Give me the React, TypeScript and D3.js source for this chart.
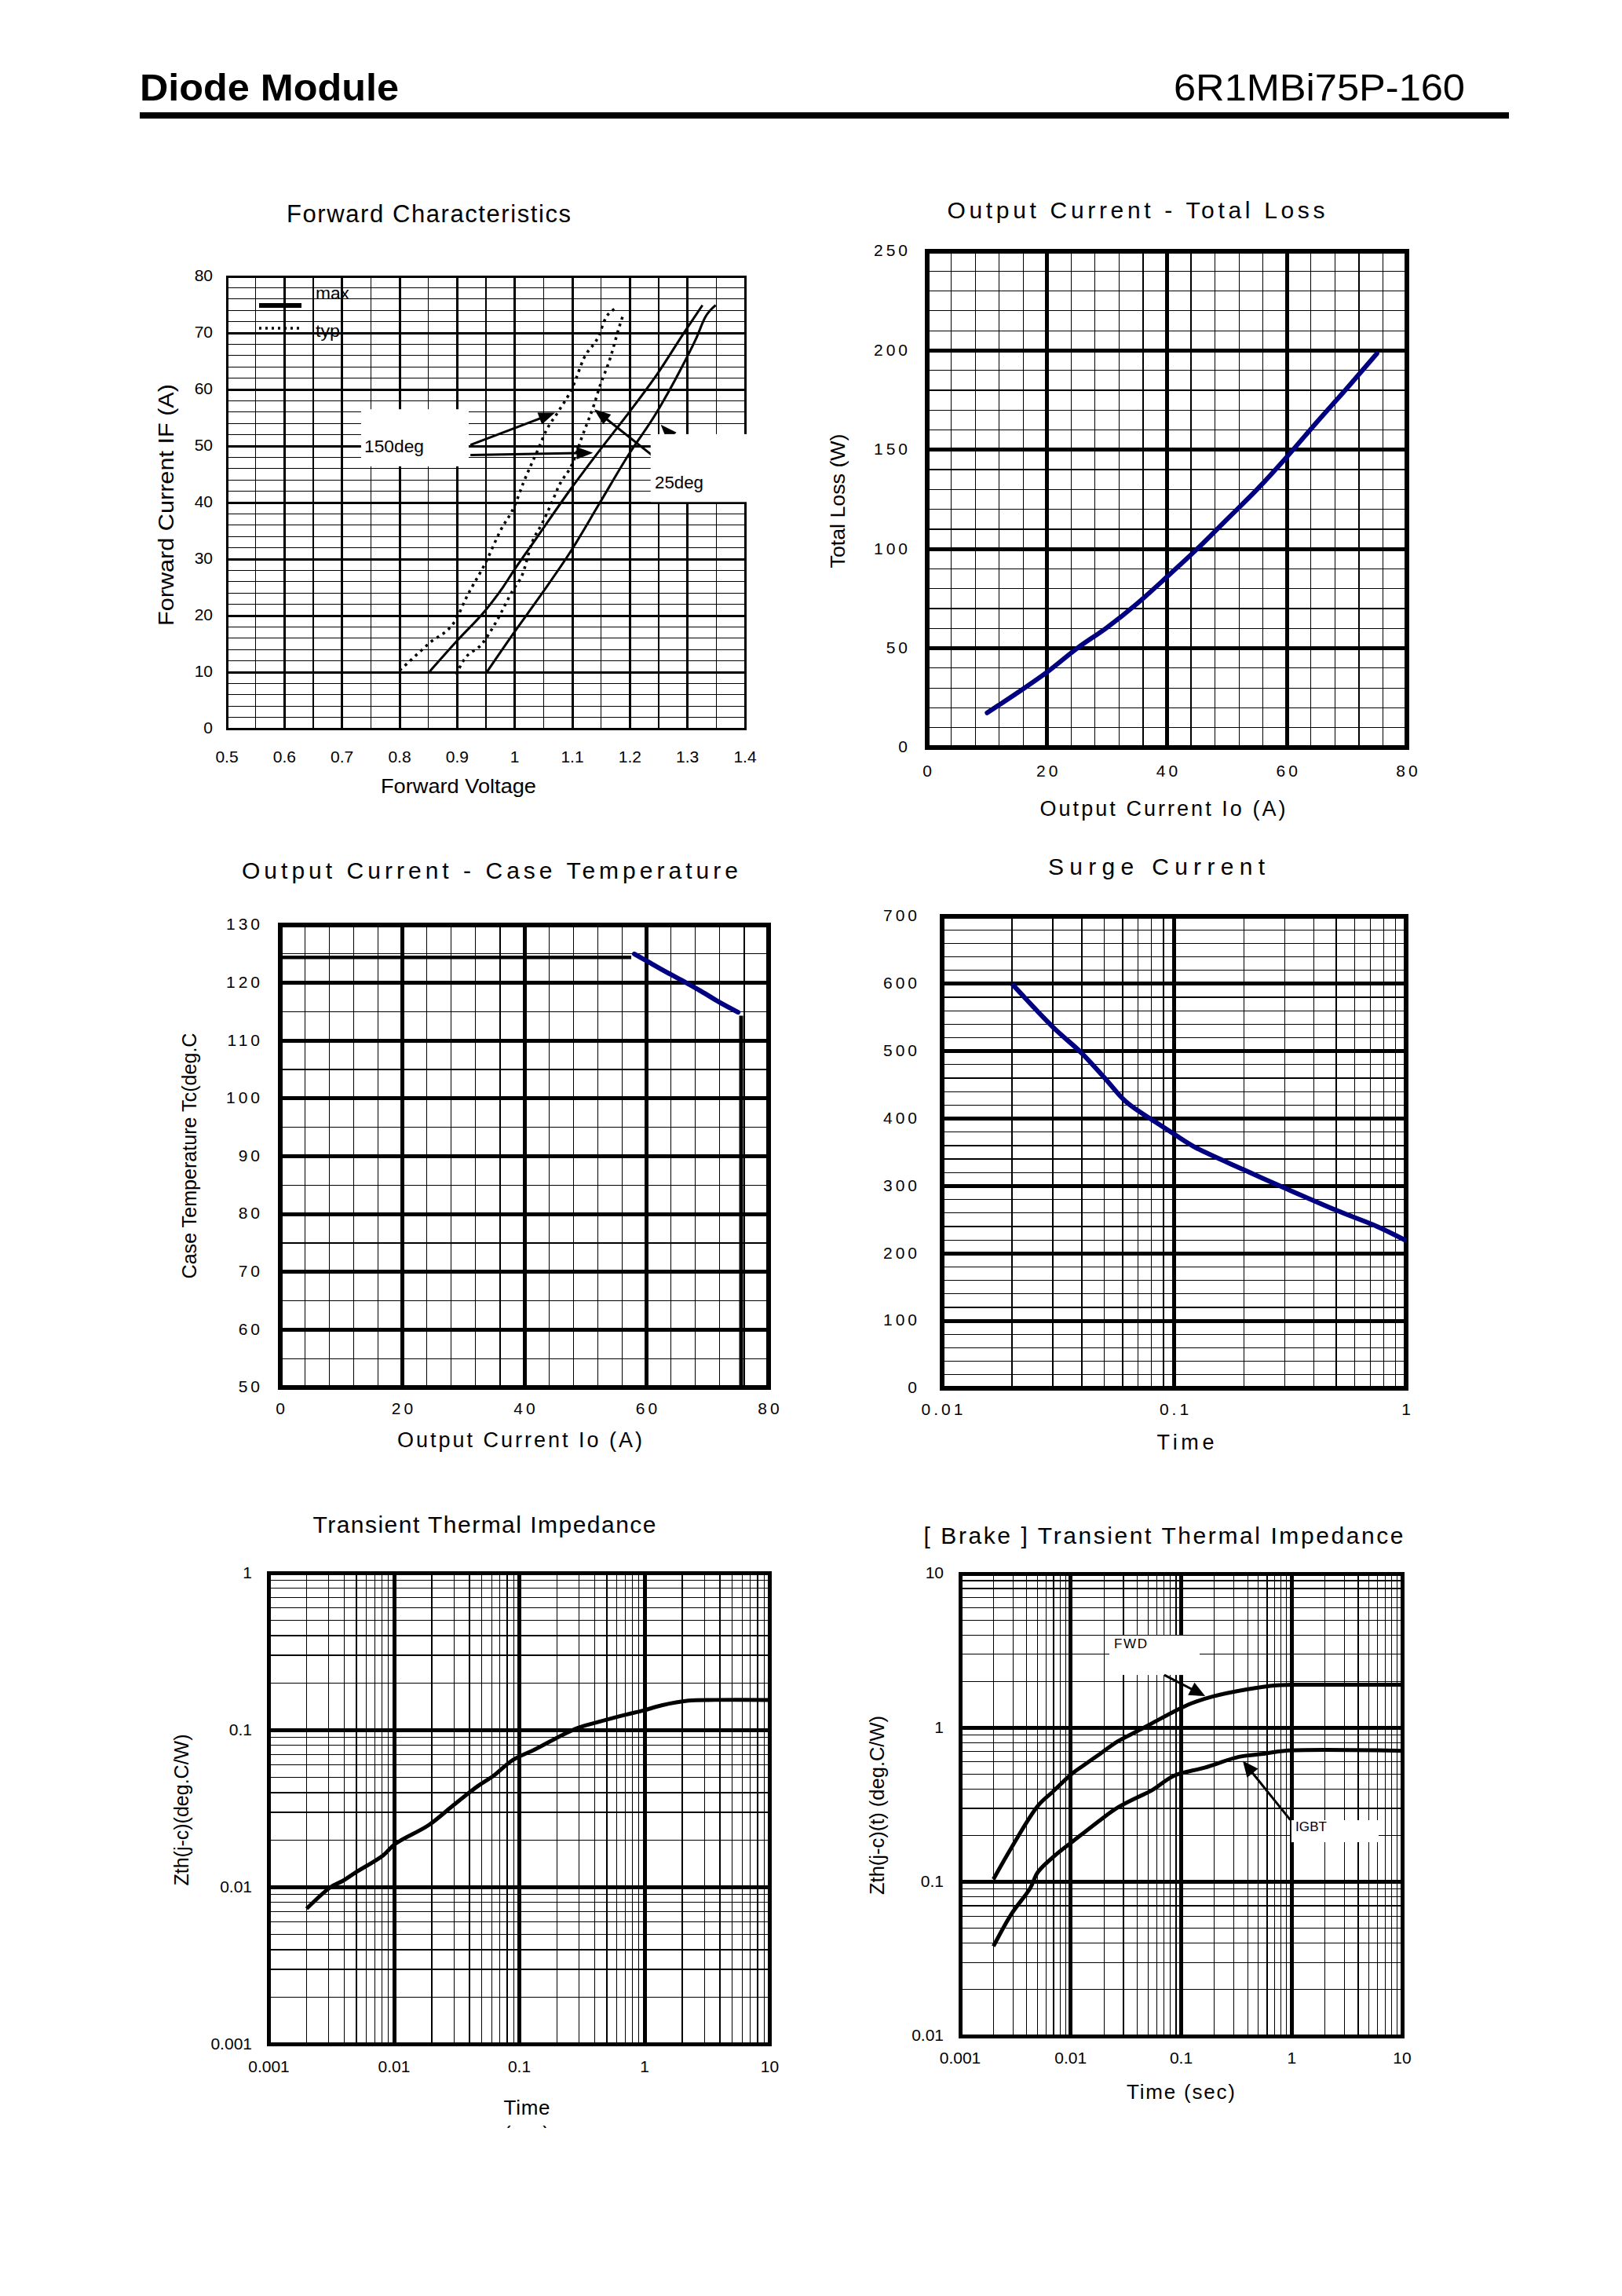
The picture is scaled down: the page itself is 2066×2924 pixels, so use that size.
import React from 'react';
import * as d3 from 'd3';

const FONT = "'Liberation Sans', Arial, Helvetica, sans-serif";
const NAVY = '#000080';

// ---------------- data ----------------
// Forward characteristics (V, A)
const fwdVoltTicks = [0.5, 0.6, 0.7, 0.8, 0.9, 1.0, 1.1, 1.2, 1.3, 1.4];
const fwdVoltLabels = ['0.5', '0.6', '0.7', '0.8', '0.9', '1', '1.1', '1.2', '1.3', '1.4'];
const fwdCurrTicks = [0, 10, 20, 30, 40, 50, 60, 70, 80];
const fwdTyp150: [number, number][] = [
  [0.8, 10.3], [0.85, 15], [0.9, 19.7], [0.915, 23], [0.95, 29.5], [0.975, 35], [1.0, 39.5],
  [1.015, 43.5], [1.04, 49.3], [1.055, 52.8], [1.075, 56], [1.1, 60.3], [1.12, 65.5],
  [1.148, 70], [1.155, 72], [1.173, 74.2],
];
const fwdTyp25: [number, number][] = [
  [0.898, 9.6], [0.912, 12.2], [0.944, 15.1], [0.966, 18.6], [0.998, 24.7], [1.013, 27.2],
  [1.03, 32.9], [1.048, 36.4], [1.066, 40.4], [1.076, 42.8], [1.101, 47.1], [1.116, 51.4],
  [1.137, 57.1], [1.148, 60.6], [1.166, 65.6], [1.181, 70.9], [1.189, 73.4],
];
const fwdMax150: [number, number][] = [
  [0.852, 10.1], [0.902, 15.8], [0.948, 20.8], [0.98, 25.1], [0.998, 27.9], [1.037, 33.6],
  [1.098, 42.5], [1.148, 49.3], [1.202, 56.4], [1.248, 62.8], [1.295, 70.2], [1.326, 74.9],
];
const fwdMax25: [number, number][] = [
  [0.952, 10.1], [0.998, 16.9], [1.045, 23.6], [1.098, 31.5], [1.148, 40], [1.198, 48.5],
  [1.245, 55.7], [1.295, 64.9], [1.315, 69], [1.331, 72.8], [1.349, 74.9],
];

// Output current - total loss
const lossXTicks = [0, 20, 40, 60, 80];
const lossYTicks = [0, 50, 100, 150, 200, 250];
const lossCurrent = [10, 15, 20, 25, 30, 35, 40, 45, 50, 55, 60, 65, 70, 75];
const lossWatts = [17.5, 27.5, 38, 50, 60.5, 72.5, 86, 100, 115, 130, 146.5, 164, 181, 198.5];

// Output current - case temperature
const caseXTicks = [0, 20, 40, 60, 80];
const caseYTicks = [50, 60, 70, 80, 90, 100, 110, 120, 130];
const caseFlatCurrent = [0, 57.5];
const caseFlatTemp = [124.4, 124.4];
const caseCurrent = [58, 60, 63, 66, 69, 72, 75];
const caseTemp = [125, 123.8, 122, 120.3, 118.5, 116.6, 114.9];
const caseLimitCurrent = [75.5, 75.5];
const caseLimitTemp = [114.3, 50];

// Surge current
const surgeXTicks = [0.01, 0.1, 1];
const surgeXLabels = ['0.01', '0.1', '1'];
const surgeYTicks = [0, 100, 200, 300, 400, 500, 600, 700];
const surgeTime = [0.02, 0.03, 0.04, 0.05, 0.062, 0.083, 0.1, 0.124, 0.2, 0.3, 0.5, 0.75, 1];
const surgeCurrent = [600, 536, 497, 461, 425, 395, 377, 357, 324, 297, 264, 240, 219];

// Transient thermal impedance
const zthXTicks = [0.001, 0.01, 0.1, 1, 10];
const zthXLabels = ['0.001', '0.01', '0.1', '1', '10'];
const zthYTicks = [0.001, 0.01, 0.1, 1];
const zthYLabels = ['0.001', '0.01', '0.1', '1'];
const zthTime = [0.002, 0.0031, 0.0039, 0.0049, 0.0082, 0.0101, 0.0189, 0.0296, 0.0466, 0.0628, 0.0883,
  0.133, 0.209, 0.295, 0.446, 0.7, 0.98, 1.37, 2.24, 3.67, 10];
const zthValue = [0.0073, 0.01, 0.011, 0.0124, 0.016, 0.0188, 0.0249, 0.0332, 0.0441, 0.0516, 0.0645,
  0.0755, 0.0913, 0.1037, 0.114, 0.1254, 0.1336, 0.1442, 0.1545, 0.156, 0.156];

// Brake transient thermal impedance
const brakeYTicks = [0.01, 0.1, 1, 10];
const brakeYLabels = ['0.01', '0.1', '1', '10'];
const brakeFwdTime = [0.002, 0.0029, 0.00506, 0.0069, 0.0103, 0.013, 0.0186, 0.0265, 0.0395, 0.0541,
  0.0867, 0.1236, 0.1919, 0.392, 0.735, 1.0, 10];
const brakeFwdZ = [0.104, 0.166, 0.312, 0.385, 0.504, 0.568, 0.68, 0.814, 0.946, 1.066, 1.277, 1.44,
  1.594, 1.774, 1.886, 1.9, 1.9];
const brakeIgbtTime = [0.002, 0.0029, 0.0043, 0.00506, 0.0075, 0.0103, 0.0186, 0.0265, 0.0395, 0.0541,
  0.0867, 0.163, 0.333, 0.577, 0.86, 10];
const brakeIgbtZ = [0.0382, 0.0617, 0.091, 0.116, 0.152, 0.1817, 0.2526, 0.3027, 0.3516, 0.392, 0.489,
  0.551, 0.648, 0.68, 0.709, 0.709];

// ---------------- helpers ----------------
type Axis = { type: 'lin' | 'log'; domain: [number, number]; major?: number; minor?: number };
type Frame = { left: number; right: number; top: number; bottom: number; frameW: number; majorW: number; minorW: number };

function makeScale(ax: Axis, range: [number, number]): any {
  return ax.type === 'log'
    ? d3.scaleLog().domain(ax.domain).range(range)
    : d3.scaleLinear().domain(ax.domain).range(range);
}

function gridValues(ax: Axis) {
  const out: { v: number; major: boolean }[] = [];
  const [d0, d1] = ax.domain;
  if (ax.type === 'log') {
    const e0 = Math.round(Math.log10(d0));
    const e1 = Math.round(Math.log10(d1));
    for (let e = e0; e < e1; e++) {
      for (let k = 1; k <= 9; k++) out.push({ v: k * Math.pow(10, e), major: k === 1 });
    }
    out.push({ v: d1, major: true });
  } else {
    const n = Math.round((d1 - d0) / (ax.minor as number));
    for (let i = 0; i <= n; i++) {
      const v = d0 + i * (ax.minor as number);
      const r = (v - d0) / (ax.major as number);
      out.push({ v, major: Math.abs(r - Math.round(r)) < 1e-6 });
    }
  }
  return out;
}

function Grid({ fr, xs, ys, xa, ya }: { fr: Frame; xs: any; ys: any; xa: Axis; ya: Axis }) {
  const xv = gridValues(xa);
  const yv = gridValues(ya);
  const lines = (major: boolean) => (
    <g stroke="#000" strokeWidth={major ? fr.majorW : fr.minorW} shapeRendering="crispEdges">
      {xv.filter((d) => d.major === major).map((d, i) => (
        <line key={'x' + i} x1={xs(d.v)} x2={xs(d.v)} y1={fr.top} y2={fr.bottom} />
      ))}
      {yv.filter((d) => d.major === major).map((d, i) => (
        <line key={'y' + i} x1={fr.left} x2={fr.right} y1={ys(d.v)} y2={ys(d.v)} />
      ))}
    </g>
  );
  return (
    <g>
      {lines(false)}
      {lines(true)}
      <rect x={fr.left} y={fr.top} width={fr.right - fr.left} height={fr.bottom - fr.top}
        fill="none" stroke="#000" strokeWidth={fr.frameW} shapeRendering="crispEdges" />
    </g>
  );
}

function YLabels({ ticks, labels, ys, x, size = 21, spacing = 0 }: any) {
  return (
    <g fontSize={size} textAnchor="end">
      {ticks.map((t: number, i: number) => (
        <text key={i} x={x + spacing} y={ys(t)} dy="0.3em" letterSpacing={spacing}>
          {labels ? labels[i] : String(t)}
        </text>
      ))}
    </g>
  );
}

function XLabels({ ticks, labels, xs, y, size = 21, spacing = 0 }: any) {
  return (
    <g fontSize={size} textAnchor="middle">
      {ticks.map((t: number, i: number) => (
        <text key={i} x={xs(t) + spacing / 2} y={y} letterSpacing={spacing}>
          {labels ? labels[i] : String(t)}
        </text>
      ))}
    </g>
  );
}

function Title({ x, y, len, size, children, adjust = 'spacing' }: any) {
  return (
    <text x={x} y={y} fontSize={size} textAnchor="middle" textLength={len} lengthAdjust={adjust}>
      {children}
    </text>
  );
}

function VTitle({ x, y, len, size, children, adjust = 'spacingAndGlyphs' }: any) {
  return (
    <text transform={`translate(${x},${y}) rotate(-90)`} fontSize={size} textAnchor="middle"
      textLength={len} lengthAdjust={adjust}>
      {children}
    </text>
  );
}

function Arrow({ x1, y1, x2, y2, w = 3, hl = 21, hw = 16 }: any) {
  const dx = x2 - x1, dy = y2 - y1;
  const L = Math.hypot(dx, dy);
  const ux = dx / L, uy = dy / L;
  const bx = x2 - ux * hl, by = y2 - uy * hl;
  const px = -uy * hw / 2, py = ux * hw / 2;
  return (
    <g>
      <line x1={x1} y1={y1} x2={bx + ux * 2} y2={by + uy * 2} stroke="#000" strokeWidth={w} />
      <polygon points={`${x2},${y2} ${bx + px},${by + py} ${bx - px},${by - py}`} fill="#000" />
    </g>
  );
}

function pathOf(xs: any, ys: any, xsData: number[], ysData: number[], smooth = false) {
  const pts = xsData.map((x, i) => [xs(x), ys(ysData[i])] as [number, number]);
  const c = smooth ? d3.curveCatmullRom.alpha(0.5) : d3.curveMonotoneX;
  return d3.line().curve(c)(pts) as string;
}

// ---------------- charts ----------------
function ForwardChart() {
  const fr: Frame = { left: 289, right: 949, top: 352, bottom: 928, frameW: 3, majorW: 3, minorW: 1.1 };
  const xa: Axis = { type: 'lin', domain: [0.5, 1.4], major: 0.1, minor: 0.05 };
  const ya: Axis = { type: 'lin', domain: [0, 80], major: 10, minor: 2 };
  const xs = makeScale(xa, [fr.left, fr.right]);
  const ys = makeScale(ya, [fr.bottom, fr.top]);
  const curve = (d: [number, number][]) =>
    pathOf(xs, ys, d.map((p) => p[0]), d.map((p) => p[1]));
  return (
    <g>
      <Title x={546} y={283} len={362} size={31}>Forward Characteristics</Title>
      <Grid fr={fr} xs={xs} ys={ys} xa={xa} ya={ya} />
      {/* arrows (drawn below label boxes) */}
      <Arrow x1={xs(0.923)} y1={ys(50.2)} x2={xs(1.07)} y2={ys(55.9)} />
      <Arrow x1={xs(0.923)} y1={ys(48.4)} x2={xs(1.136)} y2={ys(48.8)} />
      <Arrow x1={xs(1.243)} y1={ys(48.0)} x2={xs(1.138)} y2={ys(56.5)} />
      <Arrow x1={xs(1.31)} y1={ys(47.5)} x2={xs(1.2535)} y2={ys(53.8)} />
      {/* label boxes */}
      <rect x={xs(0.733)} y={ys(56.5)} width={xs(0.92) - xs(0.733)} height={ys(46.4) - ys(56.5)} fill="#fff" />
      <rect x={xs(1.236)} y={ys(52.1)} width={xs(1.4) - xs(1.236) + 4} height={ys(40.1) - ys(52.1)} fill="#fff" />
      <text x={464} y={576} fontSize={22} textLength={76} lengthAdjust="spacingAndGlyphs">150deg</text>
      <text x={834} y={622} fontSize={22} textLength={62} lengthAdjust="spacingAndGlyphs">25deg</text>
      {/* legend */}
      <line x1={fr.left + 41} x2={fr.left + 95} y1={389} y2={389} stroke="#000" strokeWidth={6} />
      <line x1={fr.left + 41} x2={fr.left + 95} y1={418} y2={418} stroke="#000" strokeWidth={3.5} strokeDasharray="3 5" />
      <text x={402} y={381} fontSize={22} textLength={43} lengthAdjust="spacingAndGlyphs">max</text>
      <text x={402} y={429} fontSize={22} textLength={31} lengthAdjust="spacingAndGlyphs">typ</text>
      {/* curves */}
      <g fill="none" stroke="#000">
        <path d={curve(fwdMax150)} strokeWidth={3} />
        <path d={curve(fwdMax25)} strokeWidth={3} />
        <path d={curve(fwdTyp150)} strokeWidth={3.5} strokeDasharray="3.5 5.5" />
        <path d={curve(fwdTyp25)} strokeWidth={3.5} strokeDasharray="3.5 5.5" />
      </g>
      <YLabels ticks={fwdCurrTicks} ys={ys} x={271} size={21} />
      <XLabels ticks={fwdVoltTicks} labels={fwdVoltLabels} xs={xs} y={971} size={21} />
      <clipPath id="fvclip"><rect x={400} y={992} width={400} height={40} /></clipPath>
      <g clipPath="url(#fvclip)">
        <Title x={584} y={1010} len={198} size={26} adjust="spacingAndGlyphs">Forward Voltage</Title>
      </g>
      <VTitle x={221} y={643} len={308} size={27}>Forward Current IF (A)</VTitle>
    </g>
  );
}

function LossChart() {
  const fr: Frame = { left: 1181, right: 1792, top: 320, bottom: 952, frameW: 6, majorW: 5, minorW: 1.2 };
  const xa: Axis = { type: 'lin', domain: [0, 80], major: 20, minor: 4 };
  const ya: Axis = { type: 'lin', domain: [0, 250], major: 50, minor: 10 };
  const xs = makeScale(xa, [fr.left, fr.right]);
  const ys = makeScale(ya, [fr.bottom, fr.top]);
  return (
    <g>
      <Title x={1447} y={278} len={481} size={30}>Output Current - Total Loss</Title>
      <Grid fr={fr} xs={xs} ys={ys} xa={xa} ya={ya} />
      <path d={pathOf(xs, ys, lossCurrent, lossWatts)} fill="none" stroke={NAVY} strokeWidth={6} strokeLinecap="round" />
      <YLabels ticks={lossYTicks} ys={ys} x={1156} size={21} spacing={4} />
      <XLabels ticks={lossXTicks} xs={xs} y={989} size={21} spacing={4} />
      <Title x={1481} y={1039} len={313} size={27}>Output Current Io (A)</Title>
      <VTitle x={1076} y={638} len={171} size={26}>Total Loss (W)</VTitle>
    </g>
  );
}

function CaseChart() {
  const fr: Frame = { left: 357, right: 979, top: 1178, bottom: 1767, frameW: 6, majorW: 5, minorW: 1.2 };
  const xa: Axis = { type: 'lin', domain: [0, 80], major: 20, minor: 4 };
  const ya: Axis = { type: 'lin', domain: [50, 130], major: 10, minor: 5 };
  const xs = makeScale(xa, [fr.left, fr.right]);
  const ys = makeScale(ya, [fr.bottom, fr.top]);
  const lin = (xd: number[], yd: number[]) =>
    d3.line()(xd.map((x, i) => [xs(x), ys(yd[i])] as [number, number])) as string;
  return (
    <g>
      <Title x={624} y={1119} len={632} size={30}>Output Current - Case Temperature</Title>
      <Grid fr={fr} xs={xs} ys={ys} xa={xa} ya={ya} />
      <path d={lin(caseFlatCurrent, caseFlatTemp)} stroke="#000" strokeWidth={4.5} fill="none" />
      <path d={lin(caseLimitCurrent, caseLimitTemp)} stroke="#000" strokeWidth={5} fill="none" />
      <path d={pathOf(xs, ys, caseCurrent, caseTemp)} fill="none" stroke={NAVY} strokeWidth={6} strokeLinecap="round" />
      <YLabels ticks={caseYTicks} ys={ys} x={331} size={21} spacing={4} />
      <XLabels ticks={caseXTicks} xs={xs} y={1801} size={21} spacing={4} />
      <Title x={662} y={1843} len={312} size={27}>Output Current Io (A)</Title>
      <VTitle x={250} y={1472} len={313} size={26}>Case Temperature Tc(deg.C</VTitle>
    </g>
  );
}

function SurgeChart() {
  const fr: Frame = { left: 1200, right: 1791, top: 1167, bottom: 1768, frameW: 6, majorW: 5, minorW: 1.2 };
  const xa: Axis = { type: 'log', domain: [0.01, 1] };
  const ya: Axis = { type: 'lin', domain: [0, 700], major: 100, minor: 20 };
  const xs = makeScale(xa, [fr.left, fr.right]);
  const ys = makeScale(ya, [fr.bottom, fr.top]);
  return (
    <g>
      <Title x={1473} y={1114} len={276} size={30}>Surge Current</Title>
      <Grid fr={fr} xs={xs} ys={ys} xa={xa} ya={ya} />
      <path d={pathOf(xs, ys, surgeTime, surgeCurrent, true)} fill="none" stroke={NAVY} strokeWidth={6} />
      <YLabels ticks={surgeYTicks} ys={ys} x={1168} size={21} spacing={4} />
      <XLabels ticks={surgeXTicks} labels={surgeXLabels} xs={xs} y={1802} size={21} spacing={4} />
      <Title x={1510} y={1846} len={73} size={27}>Time</Title>
    </g>
  );
}

function ZthChart() {
  const fr: Frame = { left: 342.5, right: 980.5, top: 2003.5, bottom: 2603.5, frameW: 5, majorW: 5, minorW: 1.2 };
  const xa: Axis = { type: 'log', domain: [0.001, 10] };
  const ya: Axis = { type: 'log', domain: [0.001, 1] };
  const xs = makeScale(xa, [fr.left, fr.right]);
  const ys = makeScale(ya, [fr.bottom, fr.top]);
  return (
    <g>
      <Title x={617} y={1952} len={437} size={30}>Transient Thermal Impedance</Title>
      <Grid fr={fr} xs={xs} ys={ys} xa={xa} ya={ya} />
      <path d={pathOf(xs, ys, zthTime, zthValue, true)} fill="none" stroke="#000" strokeWidth={5} />
      <YLabels ticks={zthYTicks} labels={zthYLabels} ys={ys} x={321} size={21} />
      <XLabels ticks={zthXTicks} labels={zthXLabels} xs={xs} y={2639} size={21} />
      <Title x={671} y={2693} len={59} size={26}>Time</Title>
      <clipPath id="secclip"><rect x={600} y={2704} width={150} height={6} /></clipPath>
      <g clipPath="url(#secclip)">
        <text x={671} y={2726} fontSize={26} textAnchor="middle">(sec)</text>
      </g>
      <VTitle x={240} y={2305} len={193} size={25}>Zth(j-c)(deg.C/W)</VTitle>
    </g>
  );
}

function BrakeChart() {
  const fr: Frame = { left: 1223, right: 1786, top: 2004, bottom: 2593, frameW: 5, majorW: 5, minorW: 1.2 };
  const xa: Axis = { type: 'log', domain: [0.001, 10] };
  const ya: Axis = { type: 'log', domain: [0.01, 10] };
  const xs = makeScale(xa, [fr.left, fr.right]);
  const ys = makeScale(ya, [fr.bottom, fr.top]);
  return (
    <g>
      <Title x={1482} y={1966} len={611} size={30}>[ Brake ] Transient Thermal Impedance</Title>
      <Grid fr={fr} xs={xs} ys={ys} xa={xa} ya={ya} />
      <rect x={xs(0.0224)} y={ys(3.96)} width={xs(0.147) - xs(0.0224)} height={ys(2.2) - ys(3.96)} fill="#fff" />
      <rect x={xs(0.995)} y={ys(0.2514)} width={xs(6.12) - xs(0.995)} height={ys(0.181) - ys(0.2514)} fill="#fff" />
      <text x={1419} y={2099} fontSize={17} textLength={42} lengthAdjust="spacing">FWD</text>
      <text x={1650} y={2332} fontSize={17} textLength={40} lengthAdjust="spacing">IGBT</text>
      <Arrow x1={xs(0.0703)} y1={ys(2.2)} x2={xs(0.165)} y2={ys(1.605)} w={3} hl={20} hw={18} />
      <Arrow x1={xs(0.971)} y1={ys(0.2526)} x2={xs(0.361)} y2={ys(0.61)} w={3} hl={20} hw={18} />
      <g fill="none" stroke="#000" strokeWidth={5}>
        <path d={pathOf(xs, ys, brakeFwdTime, brakeFwdZ, true)} />
        <path d={pathOf(xs, ys, brakeIgbtTime, brakeIgbtZ, true)} />
      </g>
      <YLabels ticks={brakeYTicks} labels={brakeYLabels} ys={ys} x={1202} size={21} />
      <XLabels ticks={zthXTicks} labels={zthXLabels} xs={xs} y={2628} size={21} />
      <Title x={1504} y={2673} len={138} size={26}>Time (sec)</Title>
      <VTitle x={1126} y={2299} len={228} size={25}>Zth(j-c)(t) (deg.C/W)</VTitle>
    </g>
  );
}

export default function App() {
  return (
    <svg width={2066} height={2924} viewBox="0 0 2066 2924"
      style={{ position: 'absolute', left: 0, top: 0, background: '#fff' }}
      fontFamily={FONT} fill="#000">
      <rect x={0} y={0} width={2066} height={2924} fill="#fff" />
      <text x={178} y={128} fontSize={48} fontWeight="bold" textLength={330} lengthAdjust="spacingAndGlyphs">Diode Module</text>
      <text x={1866} y={128} fontSize={48} textAnchor="end" textLength={371} lengthAdjust="spacingAndGlyphs">6R1MBi75P-160</text>
      <rect x={178} y={143} width={1744} height={8} fill="#000" />
      <ForwardChart />
      <LossChart />
      <CaseChart />
      <SurgeChart />
      <ZthChart />
      <BrakeChart />
    </svg>
  );
}
